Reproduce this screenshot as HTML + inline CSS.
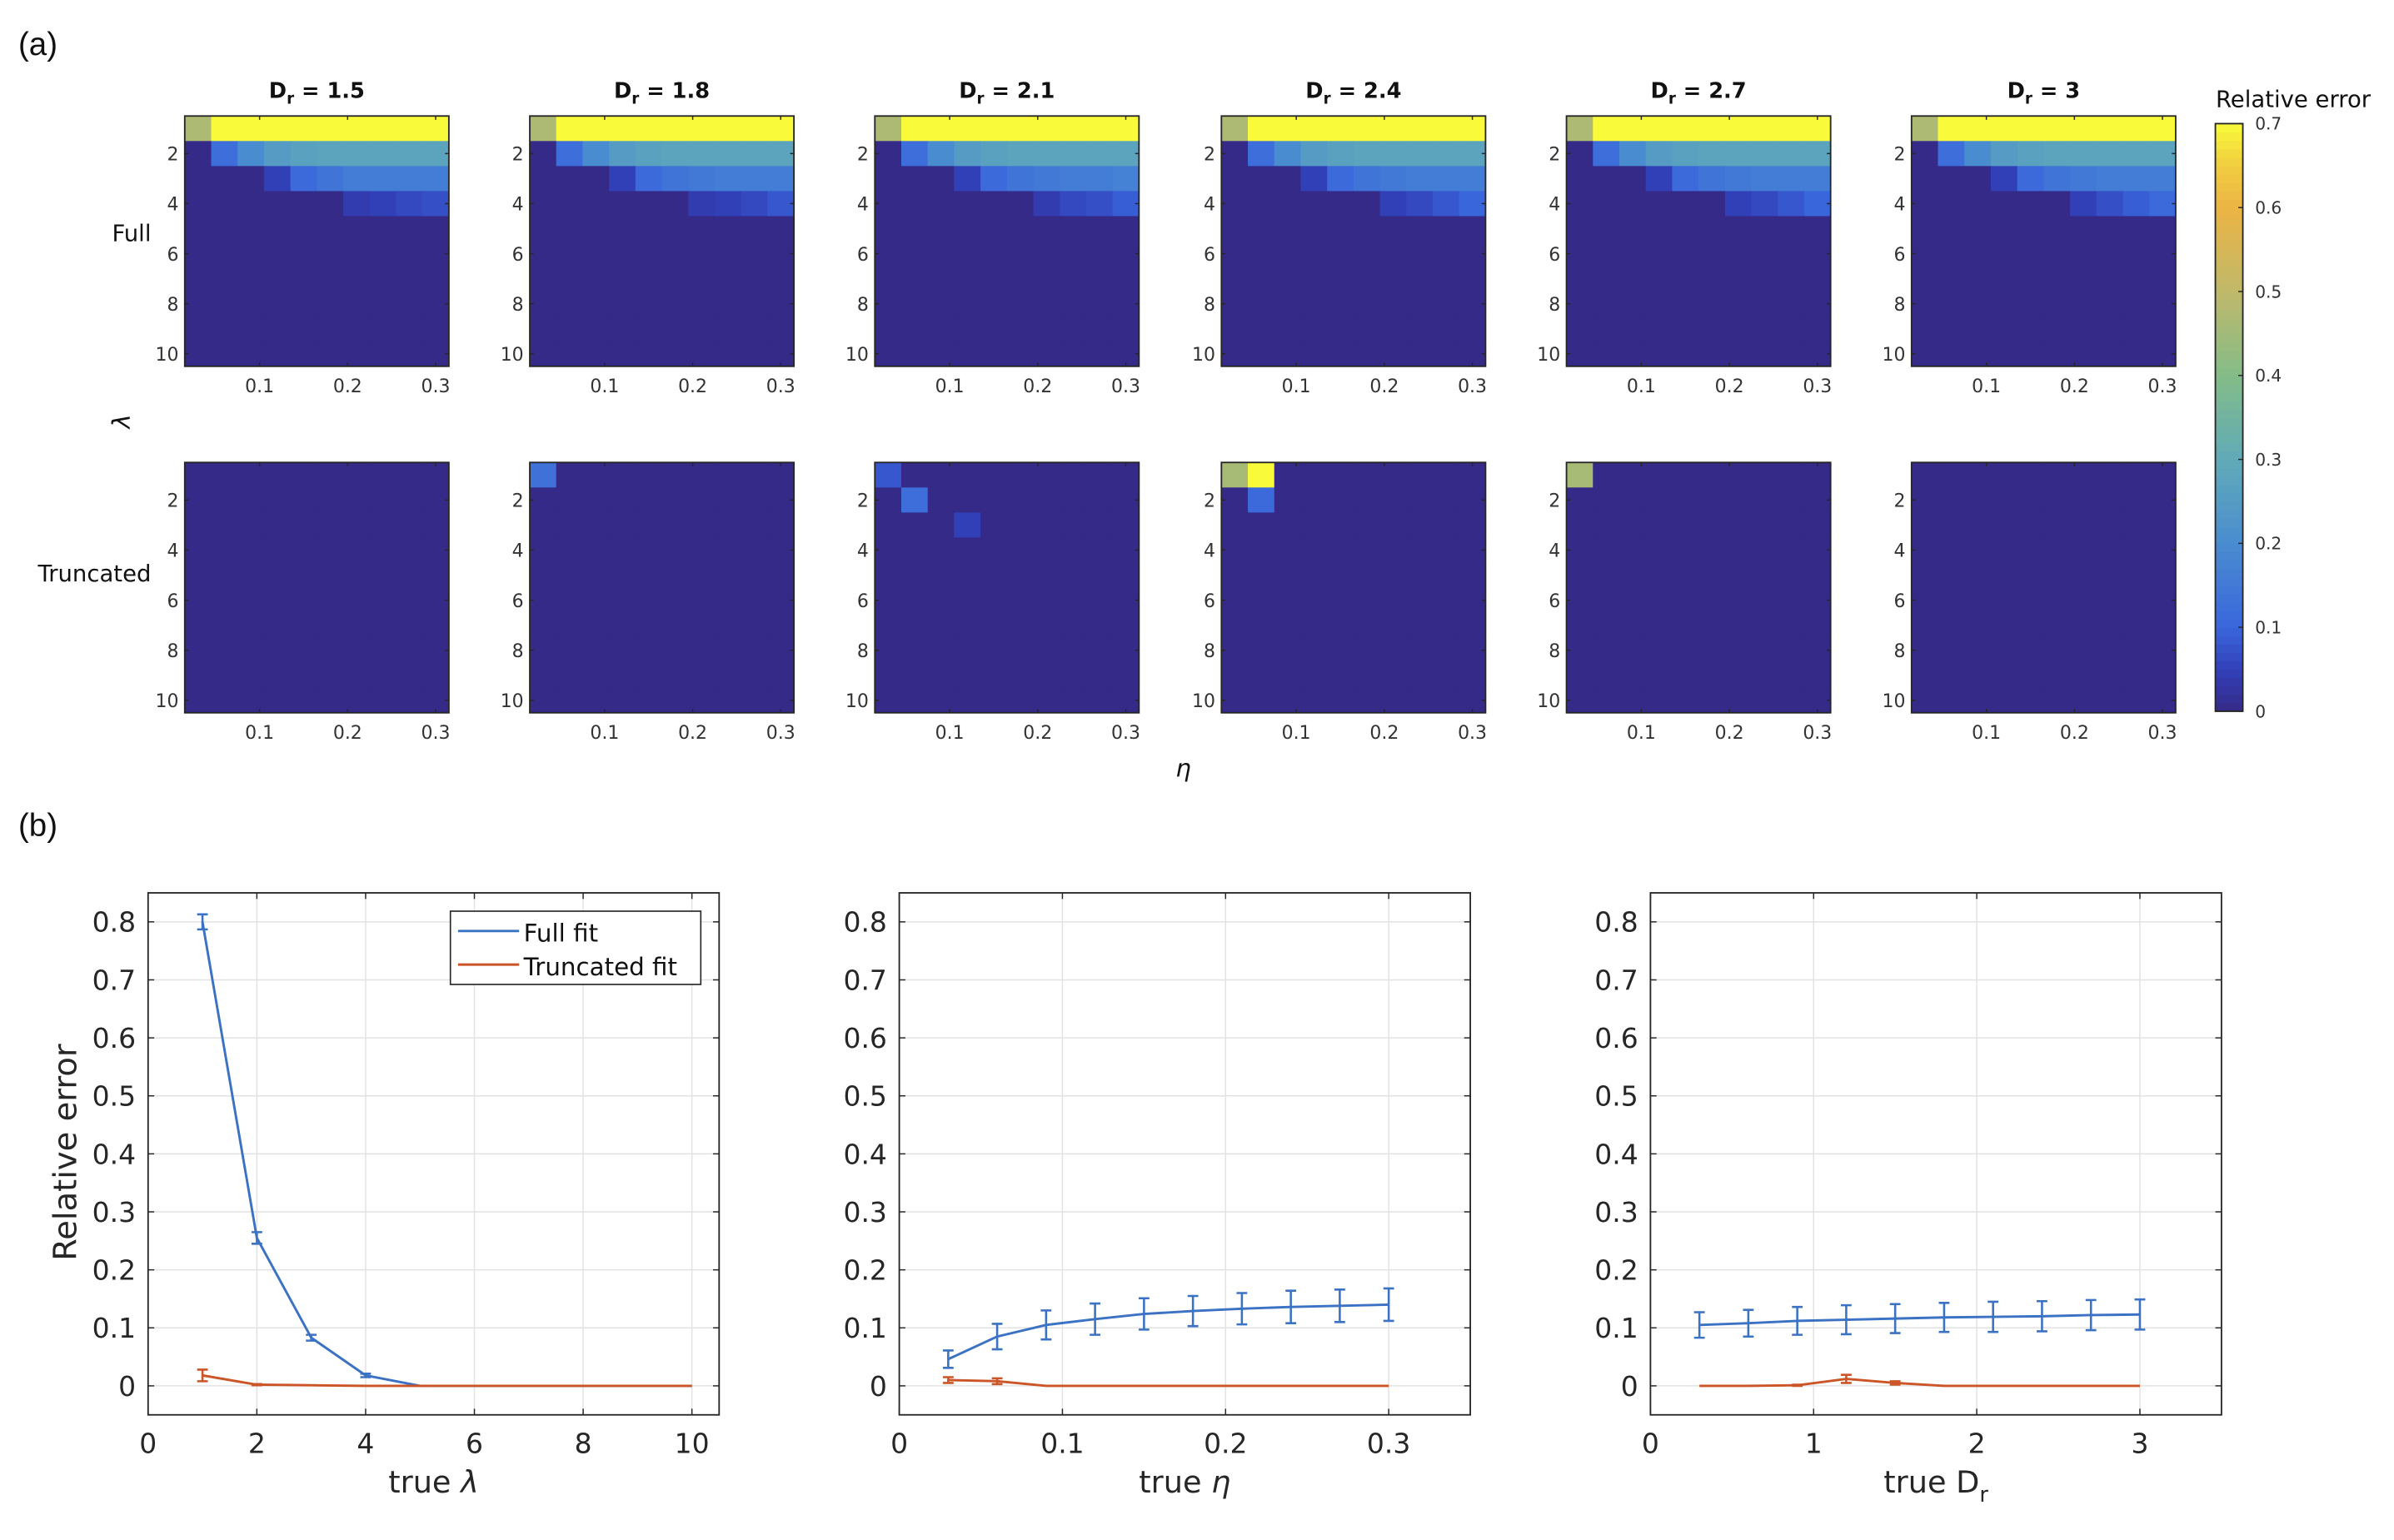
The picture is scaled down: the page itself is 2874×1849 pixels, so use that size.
<!DOCTYPE html>
<html><head><meta charset="utf-8"><style>
html,body{margin:0;padding:0;background:#fff;}
svg{display:block;font-family:"DejaVu Sans","Liberation Sans",sans-serif;}
</style></head><body>
<svg id="fig" width="2874" height="1849" viewBox="0 0 1568 1009" preserveAspectRatio="none" xmlns="http://www.w3.org/2000/svg">
<text x="12" y="36" font-size="21" fill="#111" font-family="Liberation Sans, sans-serif">(a)</text>
<text x="12" y="548" font-size="21" fill="#111" font-family="Liberation Sans, sans-serif">(b)</text>
<g id="heat"></g>
<g id="lines"></g>
</svg>
<script>
const drValues = ["1.5","1.8","2.1","2.4","2.7","3"];
const etaTicks = [0.1,0.2,0.3];
const lamTicks = [2,4,6,8,10];
const Z = [0,0,0,0,0,0,0,0,0,0];
const full15 = [[0.47,0.75,0.75,0.75,0.75,0.75,0.75,0.75,0.75,0.75],[0,0.12,0.2,0.25,0.27,0.28,0.28,0.28,0.28,0.28],[0,0,0,0.05,0.11,0.14,0.16,0.16,0.16,0.16],[0,0,0,0,0,0,0.04,0.05,0.06,0.07],Z,Z,Z,Z,Z,Z];
const full18 = [[0.47,0.75,0.75,0.75,0.75,0.75,0.75,0.75,0.75,0.75],[0,0.12,0.2,0.25,0.27,0.28,0.28,0.28,0.28,0.28],[0,0,0,0.05,0.11,0.14,0.15,0.16,0.16,0.16],[0,0,0,0,0,0,0.04,0.05,0.06,0.08],Z,Z,Z,Z,Z,Z];
const full21 = [[0.47,0.75,0.75,0.75,0.75,0.75,0.75,0.75,0.75,0.75],[0,0.12,0.2,0.25,0.27,0.28,0.28,0.28,0.28,0.28],[0,0,0,0.05,0.11,0.14,0.15,0.16,0.16,0.17],[0,0,0,0,0,0,0.04,0.06,0.07,0.09],Z,Z,Z,Z,Z,Z];
const full24 = [[0.47,0.75,0.75,0.75,0.75,0.75,0.75,0.75,0.75,0.75],[0,0.12,0.2,0.25,0.27,0.28,0.28,0.28,0.28,0.28],[0,0,0,0.05,0.11,0.14,0.15,0.16,0.16,0.16],[0,0,0,0,0,0,0.05,0.06,0.08,0.1],Z,Z,Z,Z,Z,Z];
const full27 = [[0.47,0.75,0.75,0.75,0.75,0.75,0.75,0.75,0.75,0.75],[0,0.12,0.2,0.25,0.27,0.28,0.28,0.28,0.28,0.28],[0,0,0,0.05,0.11,0.14,0.15,0.16,0.16,0.16],[0,0,0,0,0,0,0.05,0.06,0.08,0.1],Z,Z,Z,Z,Z,Z];
const full30 = [[0.47,0.75,0.75,0.75,0.75,0.75,0.75,0.75,0.75,0.75],[0,0.12,0.2,0.25,0.27,0.28,0.28,0.28,0.28,0.28],[0,0,0,0.05,0.11,0.14,0.15,0.16,0.16,0.16],[0,0,0,0,0,0,0.05,0.07,0.09,0.11],Z,Z,Z,Z,Z,Z];
const trunc15 = [Z,Z,Z,Z,Z,Z,Z,Z,Z,Z];
const trunc18 = [[0.13,0,0,0,0,0,0,0,0,0],Z,Z,Z,Z,Z,Z,Z,Z,Z];
const trunc21 = [[0.08,0,0,0,0,0,0,0,0,0],[0,0.12,0,0,0,0,0,0,0,0],[0,0,0,0.05,0,0,0,0,0,0],Z,Z,Z,Z,Z,Z,Z];
const trunc24 = [[0.46,0.72,0,0,0,0,0,0,0,0],[0,0.11,0,0,0,0,0,0,0,0],Z,Z,Z,Z,Z,Z,Z,Z];
const trunc27 = [[0.46,0,0,0,0,0,0,0,0,0],Z,Z,Z,Z,Z,Z,Z,Z,Z];
const trunc30 = [Z,Z,Z,Z,Z,Z,Z,Z,Z,Z];
const fullMaps = [full15,full18,full21,full24,full27,full30];
const truncMaps = [trunc15,trunc18,trunc21,trunc24,trunc27,trunc30];
const cbarTicks = [0,0.1,0.2,0.3,0.4,0.5,0.6,0.7];

const lamX = [1,2,3,4,5,6,7,8,9,10];
const lamFull = [0.80,0.255,0.083,0.018,0,0,0,0,0,0];
const lamFullErr = [0.013,0.01,0.005,0.003,0,0,0,0,0,0];
const lamTrunc = [0.018,0.002,0.001,0,0,0,0,0,0,0];
const lamTruncErr = [0.01,0.001,0,0,0,0,0,0,0,0];
const etaX = [0.03,0.06,0.09,0.12,0.15,0.18,0.21,0.24,0.27,0.3];
const etaFull = [0.046,0.085,0.105,0.115,0.124,0.129,0.133,0.136,0.138,0.14];
const etaFullErr = [0.015,0.022,0.025,0.027,0.027,0.026,0.027,0.028,0.028,0.028];
const etaTrunc = [0.01,0.008,0,0,0,0,0,0,0,0];
const etaTruncErr = [0.005,0.005,0,0,0,0,0,0,0,0];
const drX = [0.3,0.6,0.9,1.2,1.5,1.8,2.1,2.4,2.7,3.0];
const drFull = [0.105,0.108,0.112,0.114,0.116,0.118,0.119,0.12,0.122,0.123];
const drFullErr = [0.022,0.023,0.024,0.025,0.025,0.025,0.026,0.026,0.026,0.026];
const drTrunc = [0,0,0.001,0.012,0.005,0,0,0,0,0];
const drTruncErr = [0,0,0.001,0.007,0.003,0,0,0,0,0];
const yTicks = [0,0.1,0.2,0.3,0.4,0.5,0.6,0.7,0.8];
const lamXTicks = [0,2,4,6,8,10];
const etaXTicks = [0,0.1,0.2,0.3];
const drXTicks = [0,1,2,3];

const NS="http://www.w3.org/2000/svg";
function mk(tag,attrs,parent,txt){const e=document.createElementNS(NS,tag);for(const k in attrs)e.setAttribute(k,attrs[k]);if(txt!==undefined)e.textContent=txt;parent.appendChild(e);return e;}
const stops=[[0,[53,42,135]],[0.05,[50,64,184]],[0.1,[58,102,220]],[0.2,[74,140,208]],[0.3,[96,170,184]],[0.4,[132,188,136]],[0.5,[191,185,106]],[0.6,[236,180,69]],[0.65,[240,205,64]],[0.7,[248,250,58]]];
function cmap(v){v=Math.max(0,Math.min(0.7,v));for(let i=1;i<stops.length;i++){if(v<=stops[i][0]){const a=stops[i-1],b=stops[i];const t=(v-a[0])/(b[0]-a[0]);const c=a[1].map((x,j)=>Math.round(x+(b[1][j]-x)*t));return `rgb(${c[0]},${c[1]},${c[2]})`;}}return 'rgb(248,250,58)';}

const heat=document.getElementById('heat');
const panelX=[121,347,573,800,1026,1252], PW=173, rowTops=[76,303], PH=164;
function drawHeat(mat,x0,y0,name){
  const g=mk('g',{},heat);
  
  
  const cw=PW/10, ch=PH/10;
  mat.forEach((row,r)=>row.forEach((v,c)=>{
    const rc=mk('rect',{x:x0+c*cw,y:y0+r*ch,width:cw+0.3,height:ch+0.3,fill:cmap(v)},g);
    
    
  }));
  mk('rect',{x:x0,y:y0,width:PW,height:PH,fill:'none',stroke:'#262626','stroke-width':1},g);
  const ex=e=>x0+((e-0.03)/0.03+0.5)*cw;
  const ly=l=>y0+(l-0.5)*ch;
  etaTicks.forEach(t=>{const X=ex(t);mk('line',{x1:X,x2:X,y1:y0,y2:y0+2.5,stroke:'#262626','stroke-width':0.8},g);mk('line',{x1:X,x2:X,y1:y0+PH,y2:y0+PH-2.5,stroke:'#262626','stroke-width':0.8},g);
    const tl=mk('text',{x:X,y:y0+PH+17,'font-size':12,'text-anchor':'middle',fill:'#333'},g,String(t));});
  lamTicks.forEach(t=>{const Y=ly(t);mk('line',{x1:x0,x2:x0+2.5,y1:Y,y2:Y,stroke:'#262626','stroke-width':0.8},g);mk('line',{x1:x0+PW,x2:x0+PW-2.5,y1:Y,y2:Y,stroke:'#262626','stroke-width':0.8},g);
    const tl=mk('text',{x:x0-4,y:Y+4.5,'font-size':12,'text-anchor':'end',fill:'#333'},g,String(t));});
}
drValues.forEach((d,i)=>{
  const t=mk('text',{x:panelX[i]+PW/2,y:64,'font-size':14,'font-weight':'bold','text-anchor':'middle',fill:'#111'},heat);
  
  
  mk('tspan',{},t,'D');mk('tspan',{'font-size':10,dy:4},t,'r');mk('tspan',{dy:-4},t,' = '+d);
  drawHeat(fullMaps[i],panelX[i],rowTops[0],'full-heatmap-'+d);
  drawHeat(truncMaps[i],panelX[i],rowTops[1],'truncated-heatmap-'+d);
});
let t;
t=mk('text',{x:99,y:158,'font-size':15,'text-anchor':'end',fill:'#111'},heat,'Full');
t=mk('text',{x:99,y:381,'font-size':15,'text-anchor':'end',fill:'#111'},heat,'Truncated');
t=mk('text',{x:0,y:0,'font-size':16,'font-style':'italic','text-anchor':'middle',fill:'#111',transform:'translate(85,276) rotate(-90)'},heat,'λ');
t=mk('text',{x:775,y:509,'font-size':16,'font-style':'italic','text-anchor':'middle',fill:'#111'},heat,'η');
const cb=mk('g',{},heat);


const cbx=1451,cbw=18,cbt=81,cbb=466,N=70;
for(let i=0;i<N;i++){const v=0.7*(i+0.5)/N;const y=cbb-(i+1)*(cbb-cbt)/N;mk('rect',{x:cbx,y:y,width:cbw,height:(cbb-cbt)/N+0.4,fill:cmap(v)},cb);}
mk('rect',{x:cbx,y:cbt,width:cbw,height:cbb-cbt,fill:'none',stroke:'#262626','stroke-width':1},cb);
cbarTicks.forEach(v=>{const y=cbb-v/0.7*(cbb-cbt);mk('line',{x1:cbx+cbw,x2:cbx+cbw-3,y1:y,y2:y,stroke:'#262626','stroke-width':0.8},cb);const tl=mk('text',{x:cbx+cbw+8,y:y+4,'font-size':11,fill:'#333'},cb,String(v));});
t=mk('text',{x:1502,y:70,'font-size':15,'text-anchor':'middle',fill:'#111'},cb,'Relative error');

const lines=document.getElementById('lines');
const BLUE='#3b72c4', ORANGE='#cc5527';
function drawPlot(cfg){
  const g=mk('g',{},lines);
  
  
  const L=cfg.x0,R=cfg.x0+374,T=585,B=927;
  const sx=v=>L+(v-cfg.xmin)/(cfg.xmax-cfg.xmin)*(R-L);
  const sy=v=>B-(v+0.05)/0.9*(B-T);
  mk('rect',{x:L,y:T,width:R-L,height:B-T,fill:'#fff'},g);
  cfg.xt.forEach(v=>{const X=sx(v);mk('line',{x1:X,x2:X,y1:T,y2:B,stroke:'#e2e2e2','stroke-width':0.8},g);});
  yTicks.forEach(v=>{const Y=sy(v);mk('line',{x1:L,x2:R,y1:Y,y2:Y,stroke:'#e2e2e2','stroke-width':0.8},g);});
  mk('rect',{x:L,y:T,width:R-L,height:B-T,fill:'none',stroke:'#262626','stroke-width':1},g);
  cfg.xt.forEach(v=>{const X=sx(v);mk('line',{x1:X,x2:X,y1:B,y2:B-4,stroke:'#262626','stroke-width':0.8},g);mk('line',{x1:X,x2:X,y1:T,y2:T+4,stroke:'#262626','stroke-width':0.8},g);
    const tl=mk('text',{x:X,y:B+25,'font-size':18,'text-anchor':'middle',fill:'#262626'},g,String(v));});
  yTicks.forEach(v=>{const Y=sy(v);mk('line',{x1:L,x2:L+4,y1:Y,y2:Y,stroke:'#262626','stroke-width':0.8},g);mk('line',{x1:R,x2:R-4,y1:Y,y2:Y,stroke:'#262626','stroke-width':0.8},g);
    const tl=mk('text',{x:L-8,y:Y+6.5,'font-size':18,'text-anchor':'end',fill:'#262626'},g,String(v));});
  function series(xs,ys,es,color,nm){
    const p=mk('polyline',{points:xs.map((x,i)=>sx(x)+','+sy(ys[i])).join(' '),fill:'none',stroke:color,'stroke-width':1.6},g);
    
    
    xs.forEach((x,i)=>{if(es[i]<=0)return;const X=sx(x),y1=sy(ys[i]-es[i]),y2=sy(ys[i]+es[i]);
      const eb=mk('path',{d:`M${X},${y1}V${y2}M${X-3.5},${y1}H${X+3.5}M${X-3.5},${y2}H${X+3.5}`,stroke:color,'stroke-width':1.4,fill:'none'},g);
      
      });
  }
  series(cfg.x,cfg.full,cfg.fullErr,BLUE,'full-fit');
  series(cfg.x,cfg.trunc,cfg.truncErr,ORANGE,'truncated-fit');
  const xl=mk('text',{x:(L+R)/2,y:978,'font-size':20,'text-anchor':'middle',fill:'#262626'},g);
  
  
  mk('tspan',{},xl,'true ');
  if(cfg.sym==='D'){mk('tspan',{},xl,'D');mk('tspan',{'font-size':14,dy:6},xl,'r');}
  else mk('tspan',{'font-style':'italic'},xl,cfg.sym);
}
drawPlot({name:'lambda-plot',x0:97,xmin:0,xmax:10.5,xt:lamXTicks,x:lamX,full:lamFull,fullErr:lamFullErr,trunc:lamTrunc,truncErr:lamTruncErr,sym:'λ'});
drawPlot({name:'eta-plot',x0:589,xmin:0,xmax:0.35,xt:etaXTicks,x:etaX,full:etaFull,fullErr:etaFullErr,trunc:etaTrunc,truncErr:etaTruncErr,sym:'η'});
drawPlot({name:'dr-plot',x0:1081,xmin:0,xmax:3.5,xt:drXTicks,x:drX,full:drFull,fullErr:drFullErr,trunc:drTrunc,truncErr:drTruncErr,sym:'D'});
t=mk('text',{x:0,y:0,'font-size':21,'text-anchor':'middle',fill:'#262626',transform:'translate(50,755) rotate(-90)'},lines,'Relative error');


const lg=mk('g',{},lines);


mk('rect',{x:295,y:597,width:164,height:48,fill:'#fff',stroke:'#262626','stroke-width':0.9},lg);
mk('line',{x1:300,x2:340,y1:610,y2:610,stroke:BLUE,'stroke-width':1.6},lg);
mk('line',{x1:300,x2:340,y1:632,y2:632,stroke:ORANGE,'stroke-width':1.6},lg);
t=mk('text',{x:343,y:617,'font-size':16,fill:'#111'},lg,'Full fit');
t=mk('text',{x:343,y:639,'font-size':16,fill:'#111'},lg,'Truncated fit');
</script>
</body></html>
